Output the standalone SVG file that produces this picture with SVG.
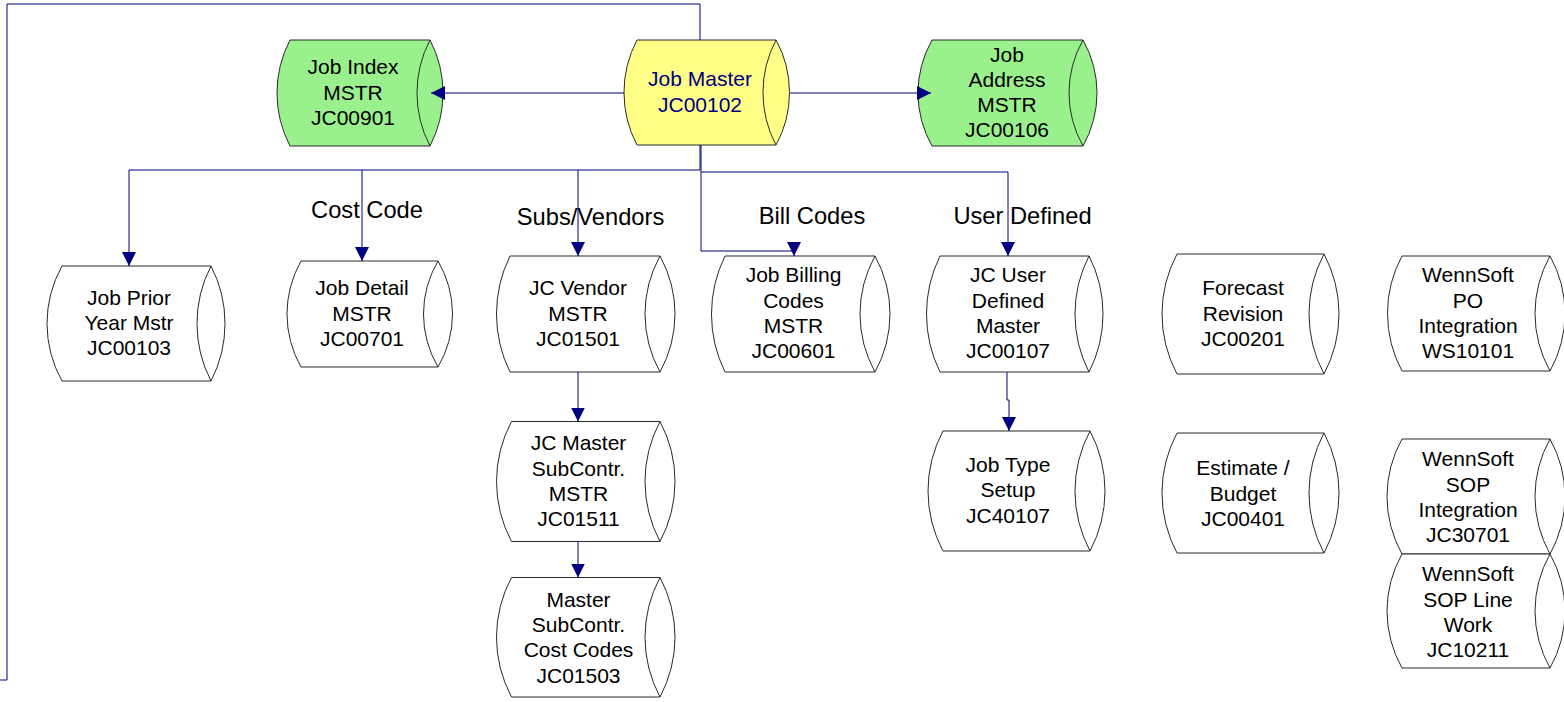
<svg xmlns="http://www.w3.org/2000/svg" width="1564" height="702" viewBox="0 0 1564 702">
<style>
.shape{stroke:#2a2a2a;stroke-width:1;}
.w{fill:#ffffff;}
.g{fill:#99f08c;}
.y{fill:#ffff88;}
.inner{fill:none;stroke:#2a2a2a;stroke-width:1;}
.t{font-family:"Liberation Sans",Arial,sans-serif;font-size:21px;fill:#000000;text-anchor:middle;}
.tb{fill:#000080;}
.lbl{font-family:"Liberation Sans",Arial,sans-serif;font-size:23.7px;fill:#000000;text-anchor:middle;}
.c{fill:none;stroke:#000080;stroke-width:1;}
.a{marker-end:url(#arr);}
</style>
<defs>
<marker id="arr" viewBox="0 0 14 14" refX="14" refY="7" markerWidth="14" markerHeight="14" markerUnits="userSpaceOnUse" orient="auto">
<path d="M0,0 L14,7 L0,14 Z" fill="#000080"/>
</marker>
</defs>
<rect width="1564" height="702" fill="#ffffff"/>

<g id="labels">
<text class="lbl" x="367" y="218">Cost Code</text>
<text class="lbl" x="590.5" y="225">Subs/Vendors</text>
<text class="lbl" x="812" y="224">Bill Codes</text>
<text class="lbl" x="1022.5" y="224">User Defined</text>
</g>

<g id="jobMaster">
<path class="shape y" d="M637,40 L776,40 A108.8,108.8 0 0 1 776,145 L637,145 A112.5,112.5 0 0 1 637,40 Z"/>
<path class="inner" d="M776,40 A112.5,112.5 0 0 0 776,145"/>
<text class="t tb" x="700" y="86">Job Master</text>
<text class="t tb" x="700" y="111.5">JC00102</text>
</g>

<g id="jobIndex">
<path class="shape g" d="M290,40 L430,40 A114.5,114.5 0 0 1 430,146 L290,146 A114.5,114.5 0 0 1 290,40 Z"/>
<path class="inner" d="M430,40 A114.5,114.5 0 0 0 430,146"/>
<text class="t" x="353" y="74">Job Index</text>
<text class="t" x="353" y="100">MSTR</text>
<text class="t" x="353" y="125">JC00901</text>
</g>

<g id="jobAddress">
<path class="shape g" d="M932,40 L1083,40 A107.3,107.3 0 0 1 1083,146 L932,146 A107.3,107.3 0 0 1 932,40 Z"/>
<path class="inner" d="M1083,40 A107.3,107.3 0 0 0 1083,146"/>
<text class="t" x="1007" y="62">Job</text>
<text class="t" x="1007" y="87">Address</text>
<text class="t" x="1007" y="112">MSTR</text>
<text class="t" x="1007" y="137">JC00106</text>
</g>

<g id="jobPriorYear">
<path class="shape w" d="M62,266 L211,266 A125,125 0 0 1 211,381 L62,381 A117.7,117.7 0 0 1 62,266 Z"/>
<path class="inner" d="M211,266 A125,125 0 0 0 211,381"/>
<text class="t" x="129" y="305">Job Prior</text>
<text class="t" x="129" y="330">Year Mstr</text>
<text class="t" x="129" y="355">JC00103</text>
</g>

<g id="jobDetail">
<path class="shape w" d="M301,261 L438,261 A104.1,104.1 0 0 1 438,367 L301,367 A107.3,107.3 0 0 1 301,261 Z"/>
<path class="inner" d="M438,261 A104.1,104.1 0 0 0 438,367"/>
<text class="t" x="362" y="295">Job Detail</text>
<text class="t" x="362" y="320.5">MSTR</text>
<text class="t" x="362" y="346">JC00701</text>
</g>

<g id="jcVendor">
<path class="shape w" d="M510,256 L660,256 A119.6,119.6 0 0 1 660,372 L510,372 A131.3,131.3 0 0 1 510,256 Z"/>
<path class="inner" d="M660,256 A119.6,119.6 0 0 0 660,372"/>
<text class="t" x="578" y="295">JC Vendor</text>
<text class="t" x="578" y="320.5">MSTR</text>
<text class="t" x="578" y="346">JC01501</text>
</g>

<g id="jobBilling">
<path class="shape w" d="M725,256 L875,256 A119.6,119.6 0 0 1 875,372 L725,372 A131.3,131.3 0 0 1 725,256 Z"/>
<path class="inner" d="M875,256 A119.6,119.6 0 0 0 875,372"/>
<text class="t" x="793.5" y="282">Job Billing</text>
<text class="t" x="793.5" y="307.5">Codes</text>
<text class="t" x="793.5" y="333">MSTR</text>
<text class="t" x="793.5" y="358">JC00601</text>
</g>

<g id="jcUserDefined">
<path class="shape w" d="M940,256 L1089,256 A127.1,127.1 0 0 1 1089,372 L940,372 A131.3,131.3 0 0 1 940,256 Z"/>
<path class="inner" d="M1089,256 A127.1,127.1 0 0 0 1089,372"/>
<text class="t" x="1008" y="282">JC User</text>
<text class="t" x="1008" y="307.5">Defined</text>
<text class="t" x="1008" y="333">Master</text>
<text class="t" x="1008" y="358">JC00107</text>
</g>

<g id="forecastRevision">
<path class="shape w" d="M1177,254 L1324,254 A127.5,127.5 0 0 1 1324,374 L1177,374 A127.5,127.5 0 0 1 1177,254 Z"/>
<path class="inner" d="M1324,254 A127.5,127.5 0 0 0 1324,374"/>
<text class="t" x="1243" y="295">Forecast</text>
<text class="t" x="1243" y="321">Revision</text>
<text class="t" x="1243" y="346">JC00201</text>
</g>

<g id="wennsoftPO">
<path class="shape w" d="M1402,256 L1550,256 A117.7,117.7 0 0 1 1550,371 L1402,371 A121.3,121.3 0 0 1 1402,256 Z"/>
<path class="inner" d="M1550,256 A117.7,117.7 0 0 0 1550,371"/>
<text class="t" x="1468" y="282">WennSoft</text>
<text class="t" x="1468" y="307.5">PO</text>
<text class="t" x="1468" y="333">Integration</text>
<text class="t" x="1468" y="358">WS10101</text>
</g>

<g id="jcMasterSubContr">
<path class="shape w" d="M511.5,421.5 L660,421.5 A127.5,127.5 0 0 1 660,541.5 L511.5,541.5 A127.5,127.5 0 0 1 511.5,421.5 Z"/>
<path class="inner" d="M660,421.5 A127.5,127.5 0 0 0 660,541.5"/>
<text class="t" x="578.5" y="450">JC Master</text>
<text class="t" x="578.5" y="475.5">SubContr.</text>
<text class="t" x="578.5" y="500.5">MSTR</text>
<text class="t" x="578.5" y="525.5">JC01511</text>
</g>

<g id="masterSubContrCostCodes">
<path class="shape w" d="M511.5,577.5 L660,577.5 A126.5,126.5 0 0 1 660,697 L511.5,697 A126.5,126.5 0 0 1 511.5,577.5 Z"/>
<path class="inner" d="M660,577.5 A126.5,126.5 0 0 0 660,697"/>
<text class="t" x="578.5" y="606.5">Master</text>
<text class="t" x="578.5" y="632">SubContr.</text>
<text class="t" x="578.5" y="657">Cost Codes</text>
<text class="t" x="578.5" y="682.5">JC01503</text>
</g>

<g id="jobTypeSetup">
<path class="shape w" d="M943,431 L1090,431 A127.5,127.5 0 0 1 1090,551 L943,551 A127.5,127.5 0 0 1 943,431 Z"/>
<path class="inner" d="M1090,431 A127.5,127.5 0 0 0 1090,551"/>
<text class="t" x="1008" y="471.5">Job Type</text>
<text class="t" x="1008" y="497">Setup</text>
<text class="t" x="1008" y="522.5">JC40107</text>
</g>

<g id="estimateBudget">
<path class="shape w" d="M1177,433 L1324,433 A127.5,127.5 0 0 1 1324,553 L1177,553 A127.5,127.5 0 0 1 1177,433 Z"/>
<path class="inner" d="M1324,433 A127.5,127.5 0 0 0 1324,553"/>
<text class="t" x="1243" y="475">Estimate /</text>
<text class="t" x="1243" y="500.5">Budget</text>
<text class="t" x="1243" y="526">JC00401</text>
</g>

<g id="wennsoftSOP">
<path class="shape w" d="M1402,439 L1550,439 A117.7,117.7 0 0 1 1550,554 L1402,554 A117.7,117.7 0 0 1 1402,439 Z"/>
<path class="inner" d="M1550,439 A117.7,117.7 0 0 0 1550,554"/>
<text class="t" x="1468" y="466">WennSoft</text>
<text class="t" x="1468" y="491.5">SOP</text>
<text class="t" x="1468" y="517">Integration</text>
<text class="t" x="1468" y="542">JC30701</text>
</g>

<g id="wennsoftSOPLine">
<path class="shape w" d="M1402,554 L1550,554 A115.8,115.8 0 0 1 1550,668 L1402,668 A115.8,115.8 0 0 1 1402,554 Z"/>
<path class="inner" d="M1550,554 A115.8,115.8 0 0 0 1550,668"/>
<text class="t" x="1468" y="581">WennSoft</text>
<text class="t" x="1468" y="606.5">SOP Line</text>
<text class="t" x="1468" y="632">Work</text>
<text class="t" x="1468" y="657">JC10211</text>
</g>

<g id="connectors">
<path class="c" d="M700,40 L700,4 L7,4 L7,680 L0,680"/>
<path class="c a" d="M624,93 L431,93"/>
<path class="c a" d="M790,93 L931,93"/>
<path class="c" d="M700,145 L700,170"/>
<path class="c a" d="M700,170 L129,170 L129,266"/>
<path class="c a" d="M362,170 L362,261"/>
<path class="c a" d="M578,170 L578,256"/>
<path class="c a" d="M701,145 L701,251 L794,251 L794,256"/>
<path class="c a" d="M701,172 L1008,172 L1008,256"/>
<path class="c a" d="M578,372 L578,421.5"/>
<path class="c a" d="M578,541.5 L578,577.5"/>
<path class="c a" d="M1007,372 L1007,400 L1009,400 L1009,431"/>
</g>
</svg>
